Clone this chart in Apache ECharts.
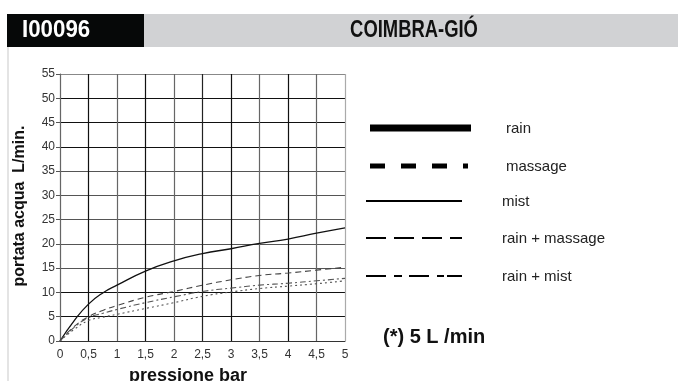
<!DOCTYPE html>
<html>
<head>
<meta charset="utf-8">
<script src="https://cdn.jsdelivr.net/npm/echarts@6/dist/echarts.min.js"></script>
<style>html,body{margin:0;padding:0;background:#fff}#c{width:678px;height:381px}</style>
</head>
<body>
<div id="c"></div>
<script>
// ---- data ----
var pressure = [0, 0.25, 0.5, 0.75, 1, 1.5, 2, 2.5, 3, 3.5, 4, 4.5, 5];
var curveSolid   = [0, 4.2, 7.6, 9.9, 11.5, 14.4, 16.5, 18.0, 19.0, 20.1, 21.0, 22.2, 23.3];
var curveDashed  = [0, 3.0, 5.0, 6.3, 7.3, 9.0, 10.2, 11.5, 12.6, 13.5, 14.0, 14.6, 15.2];
var curveDashDot = [0, 2.8, 4.8, 5.7, 6.5, 7.9, 9.1, 10.2, 10.9, 11.5, 11.9, 12.4, 12.9];
var curveDotted  = [0, 2.4, 4.2, 4.9, 5.5, 6.7, 7.9, 9.2, 10.1, 10.8, 11.3, 11.8, 12.4];
var legendNames = ['rain', 'massage', 'mist', 'rain + massage', 'rain + mist'];
var headerCode = 'I00096';
var headerTitle = 'COIMBRA-GIÓ';
var noteText = '(*) 5 L /min';
var yName = 'portata acqua  L/min.';
var xName = 'pressione bar';

function pairs(ys){ return pressure.map(function(p,i){ return [p, ys[i]]; }); }

var FONT = "'Liberation Sans', Arial, sans-serif";
var chart = echarts.init(document.getElementById('c'), null, {renderer:'canvas'});

var legendY = [128, 166, 201, 238, 276];
var graphics = [
  {type:'rect', shape:{x:7,y:14,width:137,height:33}, style:{fill:'#060808'}},
  {type:'rect', shape:{x:144,y:14,width:534,height:33}, style:{fill:'#d1d2d4'}},
  {type:'line', shape:{x1:8,y1:47,x2:8,y2:381}, style:{stroke:'#e4e4e4', lineWidth:2}},
  {type:'text', x:22, y:31, scaleX:0.97, style:{text:headerCode, fill:'#fff', font:"bold 23px 'Liberation Sans', Arial", textVerticalAlign:'middle', textAlign:'left'}},
  {type:'text', x:414, y:31, scaleX:0.8, style:{text:headerTitle, fill:'#111', font:"bold 23px 'Liberation Sans', Arial", textVerticalAlign:'middle', textAlign:'center'}},
  {type:'text', x:20, y:206, rotation:Math.PI/2, style:{text:yName, fill:'#111', font:"bold 16px "+FONT, textAlign:'center', textVerticalAlign:'middle'}},
  {type:'text', x:188, y:376, style:{text:xName, fill:'#111', font:"bold 18px "+FONT, textAlign:'center', textVerticalAlign:'middle'}},
  {type:'text', x:383, y:337, style:{text:noteText, fill:'#111', font:"bold 20px "+FONT, textAlign:'left', textVerticalAlign:'middle'}},
  // legend symbols
  {type:'line', shape:{x1:370,y1:legendY[0],x2:471,y2:legendY[0]}, style:{stroke:'#000', lineWidth:7}},
  {type:'line', shape:{x1:370,y1:legendY[1],x2:468,y2:legendY[1]}, style:{stroke:'#000', lineWidth:5, lineDash:[15,16]}},
  {type:'line', shape:{x1:366,y1:legendY[2],x2:462,y2:legendY[2]}, style:{stroke:'#000', lineWidth:2}},
  {type:'line', shape:{x1:366,y1:legendY[3],x2:462,y2:legendY[3]}, style:{stroke:'#000', lineWidth:2, lineDash:[20,8]}},
  {type:'line', shape:{x1:366,y1:legendY[4],x2:462,y2:legendY[4]}, style:{stroke:'#000', lineWidth:2, lineDash:[20,8,8,7,20,8,7,3,15]}}
];
var legendTextX = [506, 506, 502, 502, 502];
legendNames.forEach(function(n,i){
  graphics.push({type:'text', x:legendTextX[i], y:legendY[i]+1, style:{text:n, fill:'#222', font:"15px "+FONT, textAlign:'left', textVerticalAlign:'middle'}});
});

var xSplitColors = ['#555','#111','#666','#111','#666','#222','#111','#666','#111','#666','#aaa'];
var ySplitColors = ['#555','#111','#111','#555','#555','#555','#555','#555','#111','#111','#111','#888'];

function lineSeries(name, ys, type, color, width){
  return {type:'line', name:name, data:pairs(ys), smooth:0.5, showSymbol:false, symbol:'none',
    lineStyle:{color:color, width:width, type:type}, z:5, silent:true};
}

chart.setOption({
  animation:false,
  backgroundColor:'#fff',
  grid:{left:60, right:333, top:74, bottom:40},
  xAxis:{type:'value', min:0, max:5, interval:0.5,
    axisLine:{show:true, lineStyle:{color:'#333', width:1}},
    axisTick:{show:false},
    axisLabel:{color:'#333', fontSize:12, fontFamily:FONT, margin:8, formatter:function(v){ return String(v).replace('.',','); }},
    splitLine:{show:true, lineStyle:{color:xSplitColors, width:1.2}}
  },
  yAxis:{type:'value', min:0, max:55, interval:5,
    axisLine:{show:true, lineStyle:{color:'#666', width:1}},
    axisTick:{show:true, length:4, lineStyle:{color:'#555'}},
    axisLabel:{color:'#333', fontSize:12, fontFamily:FONT, margin:5},
    splitLine:{show:true, lineStyle:{color:ySplitColors, width:1.2}}
  },
  series:[
    lineSeries('mist', curveSolid, 'solid', '#111', 1.3),
    lineSeries('rain + massage', curveDashed, [6,4], '#444', 1.1),
    lineSeries('rain + mist', curveDashDot, [6,3,2,3], '#555', 1.1),
    lineSeries('massage', curveDotted, [2,3], '#555', 1.1)
  ],
  graphic:graphics
});
</script>
</body>
</html>
